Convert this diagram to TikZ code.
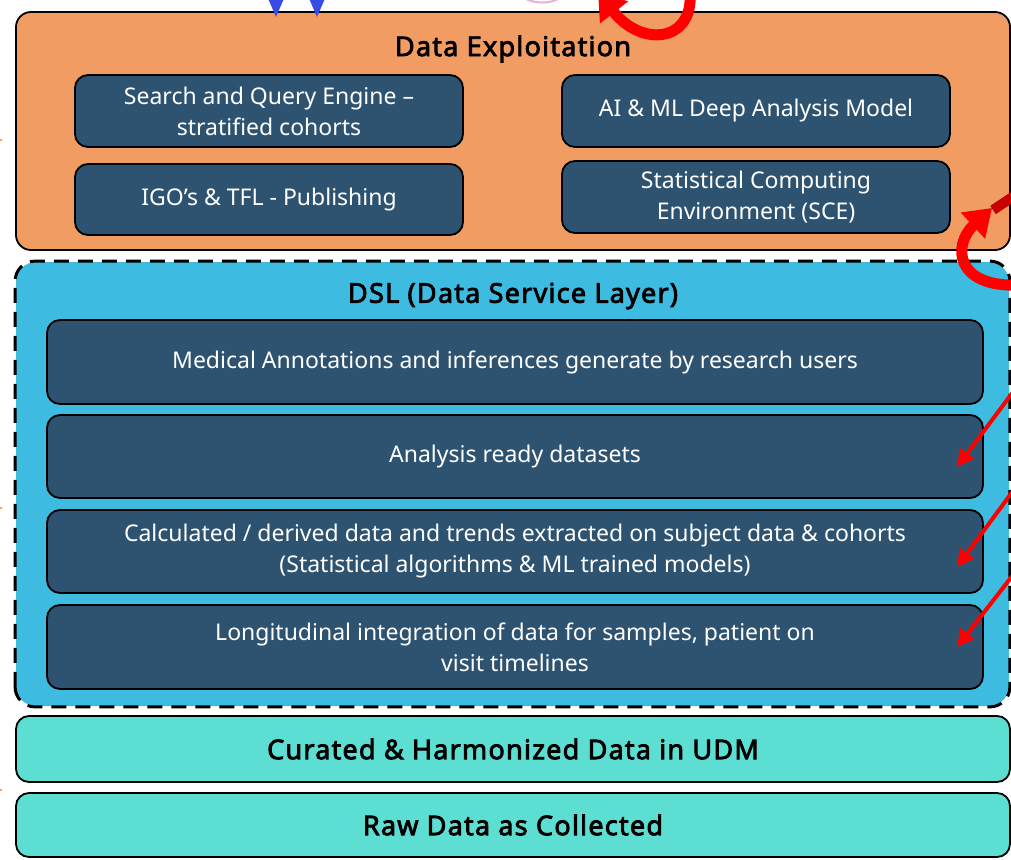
\documentclass[tikz,border=0pt]{standalone}
\usepackage{fontspec}
\setmainfont{Noto Sans}[AutoFakeBold=2.5]
\newfontfamily\headfont{Open Sans}[AutoFakeBold=3.5, LetterSpace=5]
\usetikzlibrary{arrows.meta}

\definecolor{exporange}{RGB}{241,156,99}
\definecolor{slatebox}{RGB}{46,83,112}
\definecolor{dslblue}{RGB}{62,187,224}
\definecolor{udmgreen}{RGB}{92,222,210}
\definecolor{arrowblue}{RGB}{55,75,230}
\definecolor{ribbonred}{RGB}{255,0,0}
\definecolor{ribbondark}{RGB}{200,0,0}
\definecolor{arcpink}{RGB}{232,175,222}
\definecolor{tickorange}{RGB}{240,120,40}

\tikzset{
  layerbox/.style={draw=black, line width=1.8pt, rounded corners=15pt, inner sep=0pt},
  tilebox/.style={draw=black, line width=1.8pt, rounded corners=13pt, fill=slatebox,
    text=white, align=center, inner sep=0pt, font=\fontsize{23}{31}\selectfont},
  titletext/.style={font=\headfont\bfseries\fontsize{27}{30}\selectfont, text=black, inner sep=0pt},
  redpointer/.style={draw=ribbonred, line width=4pt, -{Triangle[length=17pt,width=17pt]}},
  redribbon/.style={draw=ribbonred, line width=11pt, -{Triangle[length=26pt,width=34pt]}},
  bluepointer/.style={draw=arrowblue, line width=2.5pt, -{Triangle[length=17pt,width=14pt]}},
}

\begin{document}
\begin{tikzpicture}[x=1pt,y=-1pt]
\useasboundingbox (0,0) rectangle (1011,859);

% ---- Data Exploitation layer ----
\node[layerbox, fill=exporange, minimum width=994pt, minimum height=238pt] (exp) at (513,131) {};
\node[titletext] (exptitle) at (513,49) {Data Exploitation};
\node[tilebox, minimum width=388pt, minimum height=72pt] (search) at (269,111)
  {Search and Query Engine –\\stratified  cohorts};
\node[tilebox, minimum width=388pt, minimum height=72pt] (aiml) at (756,111)
  {AI \& ML Deep Analysis Model};
\node[tilebox, minimum width=388pt, minimum height=71pt] (igo) at (269,199.5)
  {IGO’s \& TFL - Publishing};
\node[tilebox, minimum width=388pt, minimum height=72pt] (sce) at (756,197)
  {Statistical Computing\\Environment  (SCE)};

% ---- Data Service Layer ----
\node[layerbox, fill=dslblue, draw=none, rounded corners=20pt,
      minimum width=993pt, minimum height=444pt] (dsl) at (512.5,484) {};
\draw[line width=3pt, dash pattern=on 15pt off 9pt, rounded corners=20pt]
  (dsl.south west) rectangle (dsl.north east);
\node[titletext] (dsltitle) at (513,296) {DSL (Data Service Layer)};
\node[tilebox, minimum width=936pt, minimum height=84pt] (annot) at (515,362)
  {Medical Annotations and inferences generate by research users};
\node[tilebox, minimum width=936pt, minimum height=83pt] (ready) at (515,456.5)
  {Analysis ready datasets};
\node[tilebox, minimum width=936pt, minimum height=83pt] (calc) at (515,551.5)
  {Calculated / derived data and trends extracted on subject data \& cohorts\\(Statistical algorithms \& ML trained models)};
\node[tilebox, minimum width=936pt, minimum height=84pt] (longi) at (515,647)
  {Longitudinal integration of data for samples, patient on\\visit timelines};

% ---- data foundation layers ----
\node[layerbox, fill=udmgreen, rounded corners=13pt, minimum width=994pt, minimum height=66pt,
      font=\headfont\bfseries\fontsize{27}{30}\selectfont] (udm) at (513,749)
  {Curated \& Harmonized  Data in UDM};
\node[layerbox, fill=udmgreen, rounded corners=13pt, minimum width=994pt, minimum height=64pt,
      font=\headfont\bfseries\fontsize{27}{30}\selectfont] (raw) at (513,825)
  {Raw Data as Collected};

% ---- incoming arrows ----
\coordinate (blueA) at (276,-12);
\coordinate (blueAtip) at (276,17);
\coordinate (blueB) at (317,-12);
\coordinate (blueBtip) at (317,17);
\draw[bluepointer] (blueA) -- (blueAtip);
\draw[bluepointer] (blueB) -- (blueBtip);

\coordinate (redA) at (1013,392);
\coordinate (redAtip) at (957,467);
\coordinate (redB) at (1013,491);
\coordinate (redBtip) at (957,567);
\coordinate (redC) at (1013,575);
\coordinate (redCtip) at (957,647);
\draw[redpointer] (redA) -- (redAtip);
\draw[redpointer] (redB) -- (redBtip);
\draw[redpointer] (redC) -- (redCtip);

% curved ribbon arrows
\coordinate (loopTop) at (690,-8);
\coordinate (loopTopTip) at (598,-8);
\draw[redribbon] (loopTop) .. controls (694,42) and (642,48) .. (loopTopTip);
\coordinate (loopSide) at (1020,285);
\coordinate (loopSideTip) at (992,208);
\draw[redribbon] (loopSide) .. controls (955,288) and (952,245) .. (loopSideTip);
\coordinate (backA) at (993,210);
\coordinate (backB) at (1020,192);
\draw[ribbondark, line width=10pt] (backA) -- (backB);

% faint arc and small marks at the borders
\coordinate (arcA) at (524,-2);
\coordinate (arcB) at (560,-2);
\draw[arcpink, line width=2pt] (arcA) .. controls (535,4) and (550,4) .. (arcB);
\fill[tickorange] (1,140) circle (1.2pt);
\fill[tickorange] (1,508) circle (1.2pt);
\fill[tickorange] (1,790) circle (1.2pt);
\end{tikzpicture}
\end{document}
